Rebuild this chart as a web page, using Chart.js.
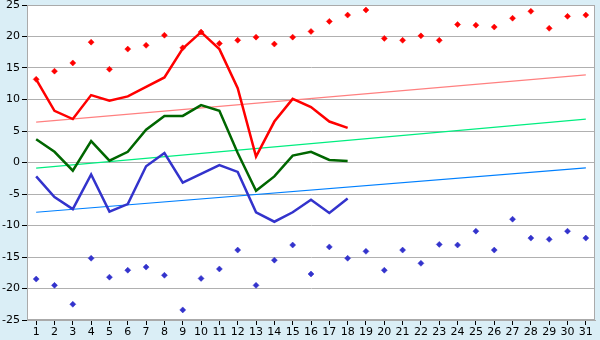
<!DOCTYPE html>
<html><head><meta charset="utf-8">
<script src="https://cdn.jsdelivr.net/npm/chart.js@4"></script>
<style>html,body{margin:0;padding:0;background:#daeef6;}#c{display:block;}</style>
</head><body>
<canvas id="c" width="600" height="340"></canvas>
<script>
const days = Array.from({length:31},(_, i)=>String(i+1));
const yTicks = [-25,-20,-15,-10,-5,0,5,10,15,20,25];
const maxTemp = [13.2,14.5,15.8,19.1,14.8,18.0,18.6,20.2,18.2,20.7,18.9,19.4,19.9,18.8,19.9,20.8,22.4,23.4,24.2,19.7,19.4,20.1,19.4,21.9,21.8,21.5,22.9,24.0,21.3,23.2,23.4];
const minTemp = [-18.5,-19.5,-22.5,-15.2,-18.2,-17.1,-16.6,-17.9,-23.4,-18.4,-16.9,-13.9,-19.5,-15.5,-13.1,-17.7,-13.4,-15.2,-14.1,-17.1,-13.9,-16.0,-13.0,-13.1,-10.9,-13.9,-9.0,-12.0,-12.2,-10.9,-12.0];
const dayMax = [13.2,8.2,6.9,10.7,9.8,10.5,12.0,13.5,18.1,20.7,18.0,11.8,0.95,6.5,10.1,8.8,6.5,5.5];
const dayMean = [3.7,1.7,-1.3,3.4,0.3,1.7,5.2,7.4,7.4,9.1,8.2,1.5,-4.5,-2.2,1.1,1.7,0.4,0.25];
const dayMin = [-2.2,-5.5,-7.4,-1.9,-7.8,-6.6,-0.6,1.5,-3.2,-1.8,-0.4,-1.5,-7.9,-9.4,-7.9,-5.9,-8.0,-5.7];
const trendMaxEnds = [6.4,13.9];
const trendMeanEnds = [-0.9,6.9];
const trendMinEnds = [-7.9,-0.85];

const ends = a => [{x:days[0],y:a[0]},{x:days[days.length-1],y:a[1]}];

const bgPlugin = {
  id:'bg',
  beforeDraw(chart){
    const {ctx, chartArea:a} = chart;
    ctx.save();
    ctx.fillStyle='#daeef6';
    ctx.fillRect(0,0,chart.width,chart.height);
    ctx.fillStyle='#ffffff';
    ctx.fillRect(a.left,a.top,a.right-a.left,a.bottom-a.top);
    ctx.restore();
  },
  afterDraw(chart){
    const {ctx, chartArea:a} = chart;
    ctx.save();
    ctx.strokeStyle='#aaaaaa';
    ctx.lineWidth=1;
    ctx.strokeRect(Math.round(a.left)+0.5,Math.round(a.top)+0.5,Math.round(a.right-a.left)-1,Math.round(a.bottom-a.top)-1);
    ctx.restore();
  }
};

const pt = (label,data,color)=>({label,data,showLine:false,pointStyle:'rectRot',pointRadius:3,pointBackgroundColor:color,pointBorderColor:color,pointBorderWidth:0.5,borderColor:color,backgroundColor:color});
const ln = (label,data,color,w)=>({label,data,borderColor:color,backgroundColor:color,borderWidth:w,pointRadius:0,tension:0,fill:false});

new Chart(document.getElementById('c'),{
  type:'line',
  data:{
    labels:days,
    datasets:[
      pt('Max',maxTemp,'#ff0000'),
      pt('Min',minTemp,'#3333cc'),
      ln('Day max',dayMax,'#ff0000',2.5),
      ln('Day mean',dayMean,'#006600',2.5),
      ln('Day min',dayMin,'#3333cc',2.5),
      ln('Trend max',ends(trendMaxEnds),'#ff8080',1.2),
      ln('Trend mean',ends(trendMeanEnds),'#00ee80',1.2),
      ln('Trend min',ends(trendMinEnds),'#0080ff',1.2)
    ]
  },
  options:{
    responsive:false,
    animation:false,
    layout:{padding:{top:5,right:5,left:0,bottom:0}},
    plugins:{legend:{display:false},tooltip:{enabled:false}},
    scales:{
      x:{
        type:'category',
        offset:true,
        grid:{display:true,drawOnChartArea:false,drawTicks:true,tickLength:5,tickColor:'#000000',offset:false},
        border:{display:true,color:'#aaaaaa'},
        ticks:{color:'#000000',font:{family:'DejaVu Sans',size:11},padding:1,maxRotation:0,autoSkip:false},
        afterFit(s){s.height=20;s.paddingLeft=0;s.paddingRight=0;}
      },
      y:{
        min:-25,max:25,
        afterBuildTicks(s){s.ticks=yTicks.map(v=>({value:v}));},
        grid:{color:'#b0b0b0',lineWidth:1,tickLength:5,tickColor:'#000000'},
        border:{display:true,color:'#aaaaaa'},
        ticks:{color:'#000000',font:{family:'DejaVu Sans',size:11},padding:2},
        afterFit(s){s.width=27;s.paddingTop=0;s.paddingBottom=0;}
      }
    }
  },
  plugins:[bgPlugin]
});
</script>
</body></html>
